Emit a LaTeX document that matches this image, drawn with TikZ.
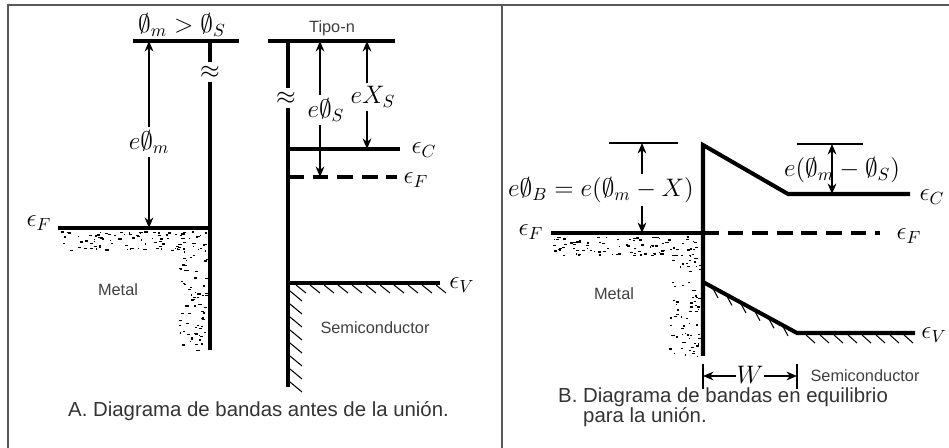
\documentclass[tikz,border=0pt]{standalone}
\usepackage{amsmath}
\usepackage{amssymb}
\usepackage{fontspec}
\setmainfont{Liberation Sans}
\usepackage{tikz}
\usetikzlibrary{arrows.meta, positioning}

\tikzset{
    band/.style={line width=2.3pt},
    level/.style={line width=0.7pt},
    frame/.style={line width=1.1pt, draw=black!65},
    fermi/.style={line width=2.3pt, dash pattern=on 9pt off 5pt},
    dimarrow/.style={<->, line width=0.7pt, >={Stealth[length=6pt,width=5pt]}},
    hatchline/.style={line width=0.6pt},
    mlabel/.style={font=\fontsize{14}{16}\selectfont, inner sep=1pt},
    gaplabel/.style={mlabel, fill=white, inner sep=2pt},
    tlabel/.style={font=\fontsize{9.3}{11}\selectfont, text=black!75},
    caption/.style={font=\fontsize{11.6}{13}\selectfont, text=black!80, anchor=base west}
}

% random dots for the metal: x0, x1, y0, y1, count
\newcommand{\metaldots}[5]{%
    \foreach \k in {1,...,#5} {
        \pgfmathsetmacro{\dotx}{#1+rnd*(#2-#1)}
        \pgfmathsetmacro{\doty}{#3+rnd*(#4-#3)}
        \fill (\dotx,\doty) rectangle ++({1+2.5*rnd},1.3);
    }}

\begin{document}
\begin{tikzpicture}[x=0.02cm, y=-0.02cm]
\useasboundingbox (0,0) rectangle (949,448);
\pgfmathsetseed{17}

% Frame
\draw[frame] (8,448) -- (8,5) -- (949,5);
\draw[frame] (502,5) -- (502,448);

% A: metal
\node[mlabel] (phicmp) at (182,25) {$\emptyset_m > \emptyset_S$};
\draw[band] (133,41) -- (239,41);
\draw[band] (210,41) -- (210,350);
\node[mlabel, fill=white, inner sep=2pt] (brkM) at (210,72) {$\approx$};
\draw[band] (58,228) -- (210,228);
\metaldots{60}{205}{231}{250}{100}
\metaldots{178}{206}{250}{350}{70}
\node[mlabel] (efA1) at (39,223) {$\epsilon_F$};
\node[tlabel] (metalA) at (118,290) {Metal};

\coordinate (phimtop) at (149,41);
\coordinate (phimbot) at (149,228);
\draw[dimarrow] (phimtop) -- (phimbot);
\node[gaplabel] (ephim) at (149,142) {$e\emptyset_m$};

% A: semiconductor
\node[tlabel] (tipon) at (332,28) {Tipo-n};
\draw[band] (268,41) -- (395,41);
\draw[band] (288,41) -- (288,387);
\node[mlabel, fill=white, inner sep=2pt] (brkS) at (286,98) {$\approx$};
\draw[band] (288,149) -- (400,149);
\draw[fermi] (288,177) -- (397,177);
\draw[band] (288,283) -- (440,283);
\foreach \x in {296,310,...,436}
    \draw[hatchline] (\x,285) -- ++(10,8);
\foreach \y in {291,304,...,382}
    \draw[hatchline] (290,\y) -- ++(12,10);
\node[mlabel] (ecA) at (424,150) {$\epsilon_C$};
\node[mlabel] (efA2) at (416,180) {$\epsilon_F$};
\node[mlabel] (evA) at (462,285) {$\epsilon_V$};
\node[tlabel] (semiA) at (375,328) {Semiconductor};

\coordinate (phistop) at (320,41);
\coordinate (phisbot) at (320,177);
\draw[dimarrow] (phistop) -- (phisbot);
\node[gaplabel] (ephis) at (326,110) {$e\emptyset_S$};
\coordinate (chitop) at (367,41);
\coordinate (chibot) at (367,149);
\draw[dimarrow] (chitop) -- (chibot);
\node[gaplabel] (echi) at (373,97) {$eX_S$};

\node[caption] (capA) at (62,417) {A. Diagrama de bandas antes de la unión.};

% B: metal
\draw[band] (551,233) -- (703,233);
\metaldots{553}{698}{236}{255}{100}
\metaldots{668}{699}{255}{356}{70}
\node[mlabel] (efB1) at (531,232) {$\epsilon_F$};
\node[tlabel] (metalB) at (614,294) {Metal};

% B: bands at equilibrium
\draw[band, line join=miter] (703,356) -- (703,145) -- (788,194) -- (910,194);
\draw[fermi] (703,233) -- (880,233);
\draw[band] (703,282) -- (797,333) -- (915,333);
\foreach \x in {712,726,...,790}
    \draw[hatchline] (\x,{282+(\x-703)*0.5426}) -- ++(6,11);
\foreach \x in {806,820,...,910}
    \draw[hatchline] (\x,335) -- ++(9,8);
\node[mlabel] (ecB) at (932,197) {$\epsilon_C$};
\node[mlabel] (efB2) at (909,236) {$\epsilon_F$};
\node[mlabel] (evB) at (934,335) {$\epsilon_V$};

% B: barrier height
\draw[level] (609,143) -- (678,143);
\coordinate (barrtop) at (642,143);
\coordinate (barrbot) at (642,233);
\draw[dimarrow] (barrtop) -- (barrbot);
\node[gaplabel] (ephib) at (601,190) {$e\emptyset_B = e(\emptyset_m - X)$};

% B: built-in potential
\draw[level] (797,144) -- (863,144);
\coordinate (vbitop) at (832,144);
\coordinate (vbibot) at (832,194);
\draw[dimarrow] (vbitop) -- (vbibot);
\node[mlabel] (evbi) at (842,170) {$e(\emptyset_m - \emptyset_S)$};

% B: depletion width
\draw[line width=1.2pt] (703,364) -- (703,389);
\draw[line width=1.2pt] (797,364) -- (797,389);
\coordinate (wleft) at (703,376);
\coordinate (wright) at (797,376);
\draw[dimarrow] (wleft) -- (wright);
\node[gaplabel, inner sep=0.5pt] (wlab) at (750,375) {$W$};
\node[tlabel] (semiB) at (865,376) {Semiconductor};

\node[caption] (capB1) at (552,403) {B. Diagrama de bandas en equilibrio};
\node[caption] (capB2) at (577,423) {para la unión.};

\end{tikzpicture}
\end{document}
